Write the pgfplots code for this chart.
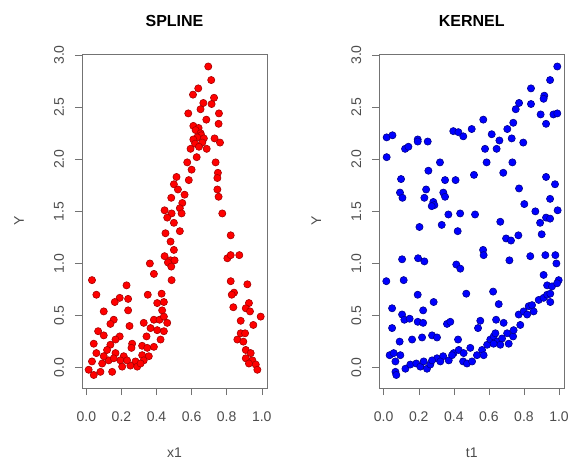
\documentclass[border=0pt]{standalone}
\usepackage{pgfplots}
\pgfplotsset{compat=1.18}
\usepackage{fontspec}
\setmainfont{Liberation Sans}

\pgfplotsset{
  rpanel/.style={
    scale only axis, width=185pt, height=334pt,
    xmin=-0.025, xmax=1.03, ymin=-0.195, ymax=3.01,
    axis line style={black!55},
    tick style={black!55, thin},
    tick align=outside, tick pos=left,
    major tick length=7pt,
    xtick={0,0.2,0.4,0.6,0.8,1},
    xticklabels={0.0,0.2,0.4,0.6,0.8,1.0},
    ytick={0,0.5,1,1.5,2,2.5,3},
    yticklabels={0.0,0.5,1.0,1.5,2.0,2.5,3.0},
    tick label style={font=\fontsize{14}{14}\selectfont, text=black!70},
    xticklabel style={anchor=center, yshift=-22pt},
    yticklabel style={anchor=center, xshift=-16pt, rotate=90},
    label style={font=\fontsize{14}{14}\selectfont, text=black!70},
    xlabel style={at={(axis description cs:0.5,-0.195)}, anchor=center},
    ylabel style={at={(axis description cs:-0.34,0.5)}, anchor=center},
    title style={at={(axis description cs:0.5,1.081)}, anchor=center,
      font=\fontsize{16}{16}\selectfont\bfseries},
    ylabel={Y},
  },
}

\begin{document}
\begin{tikzpicture}[x=1pt,y=1pt]

\begin{axis}[rpanel, at={(82pt,73pt)}, anchor=south west,
  title={SPLINE}, xlabel={x1}]
\addplot[only marks, mark=*, mark size=3.6pt,
  mark options={fill=red, draw=red!65!black, line width=0.6pt}]
  table {
x y
0.695 2.89
0.712 2.76
0.638 2.68
0.608 2.62
0.728 2.59
0.667 2.54
0.714 2.53
0.651 2.48
0.581 2.44
0.756 2.44
0.684 2.38
0.754 2.34
0.610 2.32
0.640 2.30
0.623 2.28
0.651 2.25
0.655 2.23
0.632 2.21
0.670 2.20
0.610 2.19
0.661 2.16
0.620 2.15
0.686 2.10
0.594 2.10
0.642 2.12
0.731 2.20
0.762 2.16
0.629 2.02
0.575 1.97
0.600 1.90
0.737 1.97
0.514 1.83
0.584 1.80
0.750 1.87
0.747 1.82
0.499 1.76
0.747 1.71
0.522 1.71
0.484 1.63
0.560 1.66
0.754 1.64
0.547 1.58
0.533 1.53
0.446 1.51
0.486 1.48
0.543 1.48
0.775 1.48
0.461 1.44
0.499 1.39
0.533 1.31
0.451 1.29
0.823 1.27
0.480 1.21
0.499 1.13
0.446 1.07
0.480 1.03
0.465 1.01
0.503 1.03
0.484 0.97
0.486 0.84
0.362 1.00
0.385 0.90
0.804 1.05
0.823 1.08
0.872 1.08
0.032 0.84
0.823 0.83
0.918 0.80
0.057 0.70
0.229 0.79
0.350 0.70
0.190 0.67
0.238 0.66
0.162 0.63
0.429 0.71
0.404 0.62
0.442 0.63
0.842 0.72
0.829 0.70
0.099 0.54
0.238 0.55
0.432 0.55
0.838 0.58
0.927 0.62
0.909 0.57
0.933 0.54
0.994 0.49
0.156 0.46
0.137 0.42
0.246 0.40
0.327 0.43
0.385 0.46
0.417 0.46
0.880 0.45
0.952 0.41
0.366 0.38
0.404 0.36
0.067 0.35
0.099 0.31
0.190 0.30
0.343 0.30
0.880 0.33
0.905 0.33
0.042 0.23
0.137 0.22
0.166 0.27
0.261 0.23
0.318 0.21
0.861 0.27
0.895 0.25
0.057 0.14
0.118 0.17
0.166 0.14
0.257 0.19
0.213 0.11
0.318 0.12
0.356 0.11
0.909 0.17
0.937 0.14
0.032 0.06
0.090 0.04
0.127 0.07
0.194 0.07
0.280 0.06
0.327 0.07
0.909 0.09
0.947 0.07
0.013 -0.02
0.042 -0.07
0.080 -0.04
0.147 -0.04
0.204 0.01
0.251 0.02
0.290 0.01
0.309 0.04
0.966 0.03
0.975 -0.02
0.927 0.04
0.347 0.19
0.232 0.07
0.156 0.09
0.099 0.11
0.385 0.20
0.423 0.27
0.442 0.35
0.461 0.43
0.442 0.49
};
\end{axis}

\begin{axis}[rpanel, at={(379.3pt,73pt)}, anchor=south west,
  title={KERNEL}, xlabel={t1}]
\addplot[only marks, mark=*, mark size=3.6pt,
  mark options={fill=blue, draw=blue!55!black, line width=0.6pt}]
  table {
x y
0.990 2.89
0.949 2.76
0.840 2.68
0.916 2.61
0.912 2.58
0.772 2.54
0.840 2.53
0.753 2.48
0.895 2.43
0.968 2.43
0.990 2.44
0.926 2.34
0.739 2.35
0.568 2.38
0.705 2.29
0.502 2.29
0.397 2.27
0.426 2.26
0.454 2.22
0.616 2.24
0.730 2.20
0.660 2.18
0.796 2.16
0.017 2.21
0.050 2.23
0.194 2.19
0.194 2.17
0.251 2.17
0.122 2.10
0.141 2.12
0.578 2.10
0.644 2.10
0.017 2.02
0.587 1.97
0.734 1.97
0.321 1.97
0.255 1.89
0.682 1.87
0.515 1.85
0.099 1.81
0.350 1.80
0.410 1.80
0.926 1.83
0.977 1.76
0.772 1.72
0.242 1.71
0.093 1.68
0.340 1.68
0.107 1.63
0.232 1.63
0.350 1.64
0.949 1.62
0.283 1.59
0.289 1.56
0.274 1.55
0.802 1.57
0.865 1.50
0.992 1.51
0.369 1.47
0.436 1.48
0.521 1.47
0.926 1.44
0.949 1.43
0.892 1.39
0.665 1.40
0.204 1.35
0.331 1.37
0.422 1.31
0.901 1.28
0.768 1.27
0.698 1.24
0.726 1.22
0.015 0.83
0.105 1.04
0.114 0.84
0.196 1.05
0.232 1.02
0.414 0.99
0.437 0.95
0.194 0.70
0.285 0.63
0.471 0.71
0.567 1.13
0.570 1.08
0.624 0.73
0.656 0.61
0.717 1.03
0.836 1.07
0.922 1.08
0.979 1.08
0.985 1.00
0.912 0.89
0.998 0.84
0.932 0.79
0.048 0.57
0.048 0.38
0.105 0.51
0.118 0.46
0.148 0.47
0.194 0.44
0.225 0.43
0.225 0.55
0.091 0.25
0.162 0.27
0.219 0.29
0.276 0.31
0.304 0.29
0.361 0.42
0.380 0.44
0.424 0.27
0.538 0.38
0.551 0.45
0.641 0.46
0.684 0.43
0.779 0.41
0.770 0.51
0.798 0.54
0.827 0.59
0.818 0.51
0.846 0.60
0.855 0.54
0.884 0.65
0.912 0.67
0.932 0.70
0.950 0.71
0.960 0.78
0.989 0.81
0.950 0.63
0.034 0.12
0.057 0.14
0.095 0.12
0.067 0.06
0.067 -0.04
0.072 -0.07
0.124 -0.01
0.152 0.03
0.186 0.04
0.209 0.01
0.247 -0.01
0.266 0.03
0.304 0.09
0.339 0.11
0.371 0.07
0.399 0.14
0.428 0.17
0.453 0.06
0.475 0.04
0.504 0.06
0.494 0.19
0.532 0.12
0.561 0.17
0.590 0.22
0.608 0.27
0.627 0.30
0.646 0.25
0.675 0.28
0.704 0.33
0.738 0.30
0.713 0.23
0.665 0.22
0.276 0.07
0.228 0.06
0.323 0.06
0.390 0.12
0.456 0.14
0.570 0.12
0.627 0.23
0.637 0.33
0.741 0.36
};
\end{axis}
\pgfresetboundingbox
\useasboundingbox (0pt,0pt) rectangle (571pt,461pt);
\end{tikzpicture}
\end{document}
